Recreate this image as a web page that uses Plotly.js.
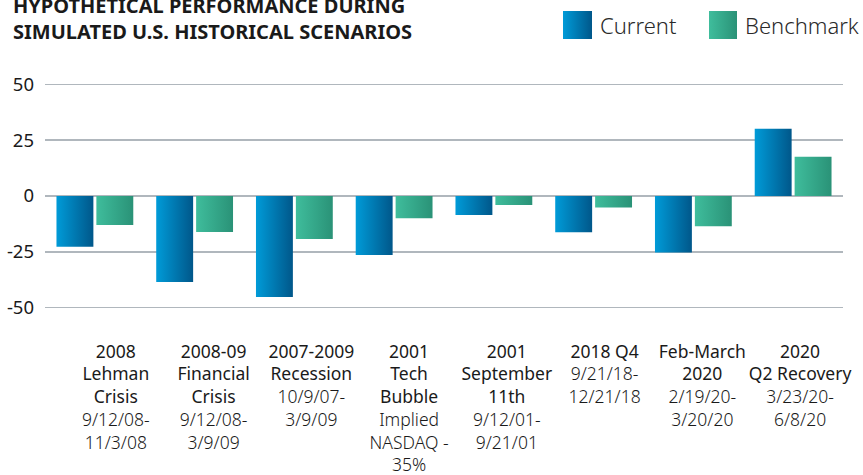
<!DOCTYPE html>
<html>
<head>
<meta charset="utf-8">
<script src="https://cdn.plot.ly/plotly-3.0.1.min.js"></script>
<style>
html,body{margin:0;padding:0;background:#fff;}
#chart{width:863px;height:475px;}
</style>
</head>
<body>
<div id="chart"></div>
<script>
// ---- data ----
var categoryNames = [
  "2008<br>Lehman<br>Crisis",
  "2008-09<br>Financial<br>Crisis",
  "2007-2009<br>Recession",
  "2001<br>Tech<br>Bubble",
  "2001<br>September<br>11th",
  "2018 Q4",
  "Feb-March<br>2020",
  "2020<br>Q2 Recovery"
];
var categoryDates = [
  "9/12/08-<br>11/3/08",
  "9/12/08-<br>3/9/09",
  "10/9/07-<br>3/9/09",
  "Implied<br>NASDAQ -<br>35%",
  "9/12/01-<br>9/21/01",
  "9/21/18-<br>12/21/18",
  "2/19/20-<br>3/20/20",
  "3/23/20-<br>6/8/20"
];
var currentValues   = [-22.7, -38.6, -45.3, -26.5, -8.5, -16.3, -25.3, 30.2];
var benchmarkValues = [-13.0, -16.1, -19.3, -10.0, -4.0, -5.1, -13.6, 17.6];
var seriesNames = ["Current", "Benchmark"];
var yTickValues = [-50, -25, 0, 25, 50];
var yTickLabels = ["-50", "-25", "0", "25", "50"];
var titleLines = ["HYPOTHETICAL PERFORMANCE DURING", "SIMULATED U.S. HISTORICAL SCENARIOS"];

// ---- build ----
var idx = categoryNames.map(function (_, i) { return i; });
var tickPositions = idx.map(function (i) { return 0.21 + i * 0.98; });
var tickTexts = idx.map(function (i) {
  return categoryNames[i] + "<br><span style=\"font-weight:300\">" + categoryDates[i] + "</span>";
});

var PL = 45, PR = 843, PT = 80, PB = 312;
function px(x) { return (x - PL) / (PR - PL); }
function py(y) { return (PB - y) / (PB - PT); }

var font = "'Noto Sans', 'Open Sans', sans-serif";

var traces = [
  {type: "bar", name: seriesNames[0], x: idx, y: currentValues,
   marker: {color: "#0078b0"}, showlegend: false, hoverinfo: "skip"},
  {type: "bar", name: seriesNames[1], x: idx, y: benchmarkValues,
   marker: {color: "#33a788"}, showlegend: false, hoverinfo: "skip"}
];

var layout = {
  width: 863, height: 475,
  margin: {l: PL, r: 863 - PR, t: PT, b: 475 - PB, pad: 0},
  paper_bgcolor: "#fff", plot_bgcolor: "#fff",
  barmode: "group", bargap: 0.2, bargroupgap: 0.075,
  showlegend: false,
  font: {family: font, color: "#1a1a1a"},
  xaxis: {
    range: [-0.5, 7.5], tickmode: "array", tickvals: tickPositions, ticktext: tickTexts,
    showgrid: false, zeroline: false, showline: false, ticks: "",
    tickfont: {size: 17.5, color: "#1a1a1a", family: font},
    ticklabelstandoff: 27, fixedrange: true
  },
  yaxis: {
    range: [-52, 52], tickmode: "array", tickvals: yTickValues, ticktext: yTickLabels,
    showgrid: true, gridcolor: "#b0b7bd", gridwidth: 1.6,
    zeroline: true, zerolinecolor: "#b0b7bd", zerolinewidth: 1.6,
    showline: false, ticks: "",
    tickfont: {size: 18.5, color: "#1a1a1a", family: font},
    ticklabelstandoff: 10, fixedrange: true
  },
  annotations: [
    {xref: "paper", yref: "paper", x: px(11), y: py(47.5), xanchor: "left", yanchor: "bottom",
     align: "left", showarrow: false, text: "<b>" + titleLines.join("<br>") + "</b>",
     font: {size: 20, color: "#1a1a1a", family: font}},
    {xref: "paper", yref: "paper", x: px(598), y: py(25), xanchor: "left", yanchor: "middle",
     showarrow: false, text: seriesNames[0], font: {size: 22, color: "#2a2a2a", family: font, weight: 300}},
    {xref: "paper", yref: "paper", x: px(743), y: py(25), xanchor: "left", yanchor: "middle",
     showarrow: false, text: seriesNames[1], font: {size: 22, color: "#2a2a2a", family: font, weight: 300}}
  ],
  shapes: [
    {type: "rect", xref: "paper", yref: "paper", x0: px(563), x1: px(592), y0: py(39), y1: py(11),
     fillcolor: "#0078b0", line: {width: 0}},
    {type: "rect", xref: "paper", yref: "paper", x0: px(709), x1: px(737), y0: py(39), y1: py(11),
     fillcolor: "#33a788", line: {width: 0}}
  ]
};

Plotly.newPlot("chart", traces, layout, {staticPlot: true, displayModeBar: false}).then(function (gd) {
  var svg = gd.querySelector("svg.main-svg");
  var ns = "http://www.w3.org/2000/svg";
  var defs = svg.querySelector("defs") || svg.insertBefore(document.createElementNS(ns, "defs"), svg.firstChild);
  function grad(id, c0, c1) {
    var g = document.createElementNS(ns, "linearGradient");
    g.setAttribute("id", id);
    g.setAttribute("x1", "0"); g.setAttribute("x2", "1");
    g.setAttribute("y1", "0"); g.setAttribute("y2", "0");
    [[0, c0], [1, c1]].forEach(function (s) {
      var st = document.createElementNS(ns, "stop");
      st.setAttribute("offset", s[0]);
      st.setAttribute("stop-color", s[1]);
      g.appendChild(st);
    });
    defs.appendChild(g);
  }
  grad("gradCurrent", "#009bd8", "#00578a");
  grad("gradBench", "#3fbd9c", "#2a9277");
  var barTraces = gd.querySelectorAll(".barlayer .trace");
  var ids = ["gradCurrent", "gradBench"];
  barTraces.forEach(function (t, i) {
    t.querySelectorAll("path").forEach(function (p) { p.style.fill = "url(#" + ids[i] + ")"; });
  });
  var shp = gd.querySelectorAll(".shapelayer path");
  shp.forEach(function (p, i) { if (i < 2) p.style.fill = "url(#" + ids[i] + ")"; });
});
</script>
</body>
</html>
